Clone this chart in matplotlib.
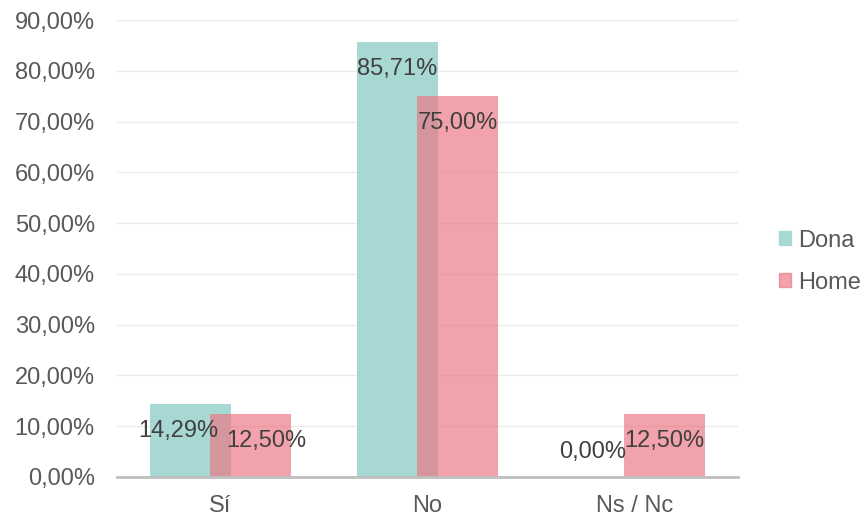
import matplotlib
matplotlib.use("Agg")
import matplotlib.pyplot as plt
import numpy as np
from matplotlib.patches import Patch

plt.rcParams["font.family"] = ["Liberation Sans", "DejaVu Sans"]

categories = ["Sí", "No", "Ns / Nc"]
dona = [14.29, 85.71, 0.00]
home = [12.50, 75.00, 12.50]
yticks = [0, 10, 20, 30, 40, 50, 60, 70, 80, 90]

# small horizontal nudges (pixels) for the data labels, as in the reference
dona_nudge = [-12, 0, -12]
home_nudge = [16, 0, 0]

dona_color = "#a8d8d4"
home_color = "#ec7482"
text_color = "#404040"
fs = 17

fig = plt.figure(figsize=(8.65, 5.2), dpi=100)
ax = fig.add_axes([0.1353, 0.0827, 0.853 - 0.1353, 0.9615 - 0.0827])

x = np.arange(len(categories))
width = 0.39
offset = 0.145

b1 = ax.bar(x - offset, dona, width, color=dona_color, zorder=2)
b2 = ax.bar(x + offset, home, width, color=home_color, alpha=0.67, zorder=3)

for bars, vals, nudges in ((b1, dona, dona_nudge), (b2, home, home_nudge)):
    for rect, v, dx in zip(bars, vals, nudges):
        cx = rect.get_x() + rect.get_width() / 2
        dy = -27 if v > 5 else 25
        ax.annotate(f"{v:.2f}%".replace(".", ","), (cx, v), xytext=(dx, dy),
                    textcoords="offset pixels",
                    ha="center", va="center", fontsize=fs, color=text_color,
                    zorder=4)

ax.set_xlim(-0.5, 2.5)
ax.set_ylim(0, 90)
ax.set_yticks(yticks)
ax.set_yticklabels([f"{t:.2f}%".replace(".", ",") for t in yticks])
ax.set_xticks(x)
ax.set_xticklabels(categories)
ax.tick_params(axis="both", length=0, labelsize=fs, labelcolor="#595959")
ax.tick_params(axis="y", pad=16)
ax.tick_params(axis="x", pad=13)

ax.grid(axis="y", color="#ebebeb", lw=1, zorder=0)
ax.set_axisbelow(True)
for s in ("top", "right", "left"):
    ax.spines[s].set_visible(False)
ax.spines["bottom"].set_color("#bfbfbf")
ax.spines["bottom"].set_linewidth(2)
ax.spines["bottom"].set_zorder(5)

handles = [Patch(color=dona_color, label="Dona"),
           Patch(color=home_color, alpha=0.67, label="Home")]
fig.legend(handles=handles, loc="center left", bbox_to_anchor=(0.901, 0.497),
           frameon=False, fontsize=fs, labelcolor="#595959",
           handlelength=0.5, handleheight=0.5, handletextpad=0.3,
           labelspacing=0.85, borderpad=0, borderaxespad=0)

fig.savefig("out.png", dpi=100)
